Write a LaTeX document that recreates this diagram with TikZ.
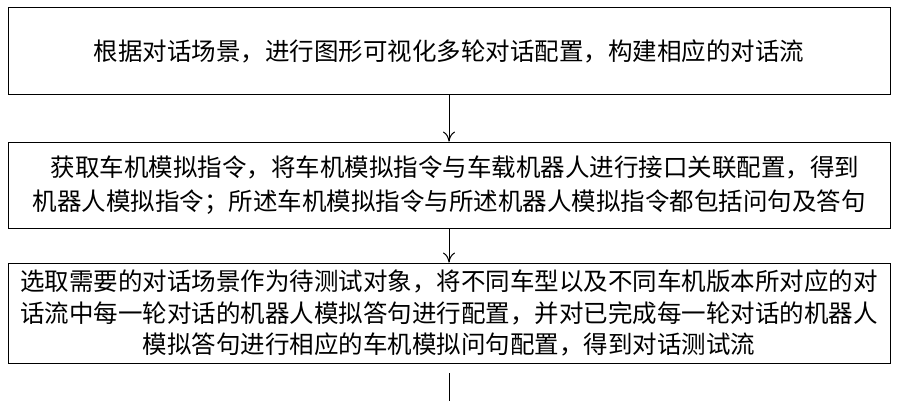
\documentclass[tikz,border=0pt]{standalone}
\usepackage{fontspec}
\newfontfamily\cjk{Noto Sans CJK SC}
\usetikzlibrary{arrows.meta}
\begin{document}
\begin{tikzpicture}[x=1pt,y=-1pt,
 box/.style={draw,line width=0.8pt,minimum width=882pt,inner sep=0pt,align=center,font=\cjk\fontsize{24.5}{34}\selectfont},
 arr/.style={draw,line width=1pt,-{To[length=10pt,width=12pt]}}]
\useasboundingbox (0,0) rectangle (897,400);
\node[box,minimum height=87pt] (b1) at (449,51) {根据对话场景，进行图形可视化多轮对话配置，构建相应的对话流};
\node[box,minimum height=86pt] (b2) at (449,185) {\hspace*{0.5em}获取车机模拟指令，将车机模拟指令与车载机器人进行接口关联配置，得到\\机器人模拟指令；所述车机模拟指令与所述机器人模拟指令都包括问句及答句};
\node[box,minimum height=100pt,font=\cjk\fontsize{24.5}{31.5}\selectfont] (b3) at (449,313) {选取需要的对话场景作为待测试对象，将不同车型以及不同车机版本所对应的对\\话流中每一轮对话的机器人模拟答句进行配置，并对已完成每一轮对话的机器人\\模拟答句进行相应的车机模拟问句配置，得到对话测试流};
\coordinate (e) at (449,425);
\draw[arr] (b1) -- (b2);
\draw[arr] (b2) -- (b3);
\draw[arr] (b3.south) ++(0,10) -- (e);
\end{tikzpicture}
\end{document}
